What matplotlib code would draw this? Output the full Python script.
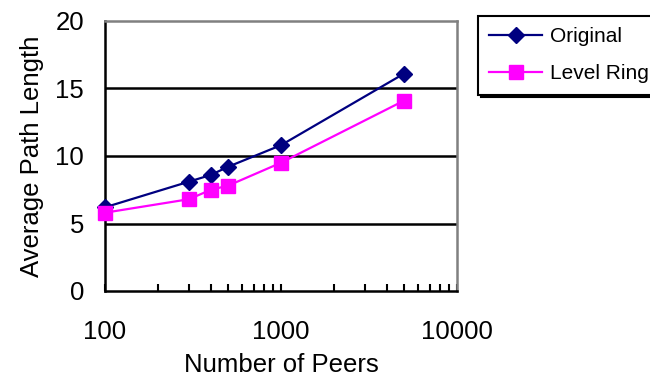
import numpy as np
import matplotlib
matplotlib.use("Agg")
import matplotlib.pyplot as plt
from matplotlib.ticker import LogLocator, NullFormatter

# data
peers = [100, 300, 400, 500, 1000, 5000]
original = [6.2, 8.1, 8.6, 9.2, 10.8, 16.1]
level_ring = [5.8, 6.8, 7.5, 7.8, 9.5, 14.1]

x_ticks = [100, 1000, 10000]
x_labels = ["100", "1000", "10000"]
y_ticks = [0, 5, 10, 15, 20]

plt.rcParams["font.family"] = ["Liberation Sans", "DejaVu Sans"]

fig = plt.figure(figsize=(6.5, 3.79), dpi=100)
ax = fig.add_axes([105 / 650, 1 - 291 / 379, (457 - 105) / 650, (291 - 21) / 379])

ax.plot(peers, original, "-D", color="#000080", lw=1.6, markersize=8.5,
        label="Original", clip_on=False, zorder=4)
ax.plot(peers, level_ring, "-s", color="#ff00ff", lw=1.6, markersize=10.5,
        label="Level Ring", clip_on=False, zorder=4)

ax.set_xscale("log")
ax.set_xlim(100, 10000)
ax.set_ylim(0, 20)

for yv in [5, 10, 15]:
    ax.axhline(yv, color="black", lw=1.8, zorder=0)

ax.set_yticks(y_ticks)
ax.set_yticklabels([str(v) for v in y_ticks], fontsize=18.5)
ax.set_xticks(x_ticks)
ax.set_xticklabels(x_labels, fontsize=18.5)
ax.xaxis.set_minor_locator(LogLocator(base=10, subs=np.arange(2, 10)))
ax.xaxis.set_minor_formatter(NullFormatter())

ax.tick_params(axis="x", which="both", direction="in", length=5, width=1.5,
               pad=21)
ax.tick_params(axis="y", which="both", length=0, pad=15)

for s in ["left", "bottom"]:
    ax.spines[s].set_color("black")
    ax.spines[s].set_linewidth(1.8)
for s in ["top", "right"]:
    ax.spines[s].set_color("#808080")
    ax.spines[s].set_linewidth(1.8)

ax.set_xlabel("Number of Peers", fontsize=18.5, labelpad=6)
ax.set_ylabel("Average Path Length", fontsize=18.5, labelpad=8)

leg = fig.legend(loc="upper left", bbox_to_anchor=(478 / 650, 1 - 16 / 379),
                 fontsize=15, frameon=True, fancybox=False,
                 shadow={"color": "black", "alpha": 1},
                 handlelength=2.5, handletextpad=0.42, borderpad=0.55,
                 labelspacing=0.85, borderaxespad=0)
leg.get_frame().set_edgecolor("black")
leg.get_frame().set_linewidth(1.5)

fig.savefig("out.png", dpi=100)
